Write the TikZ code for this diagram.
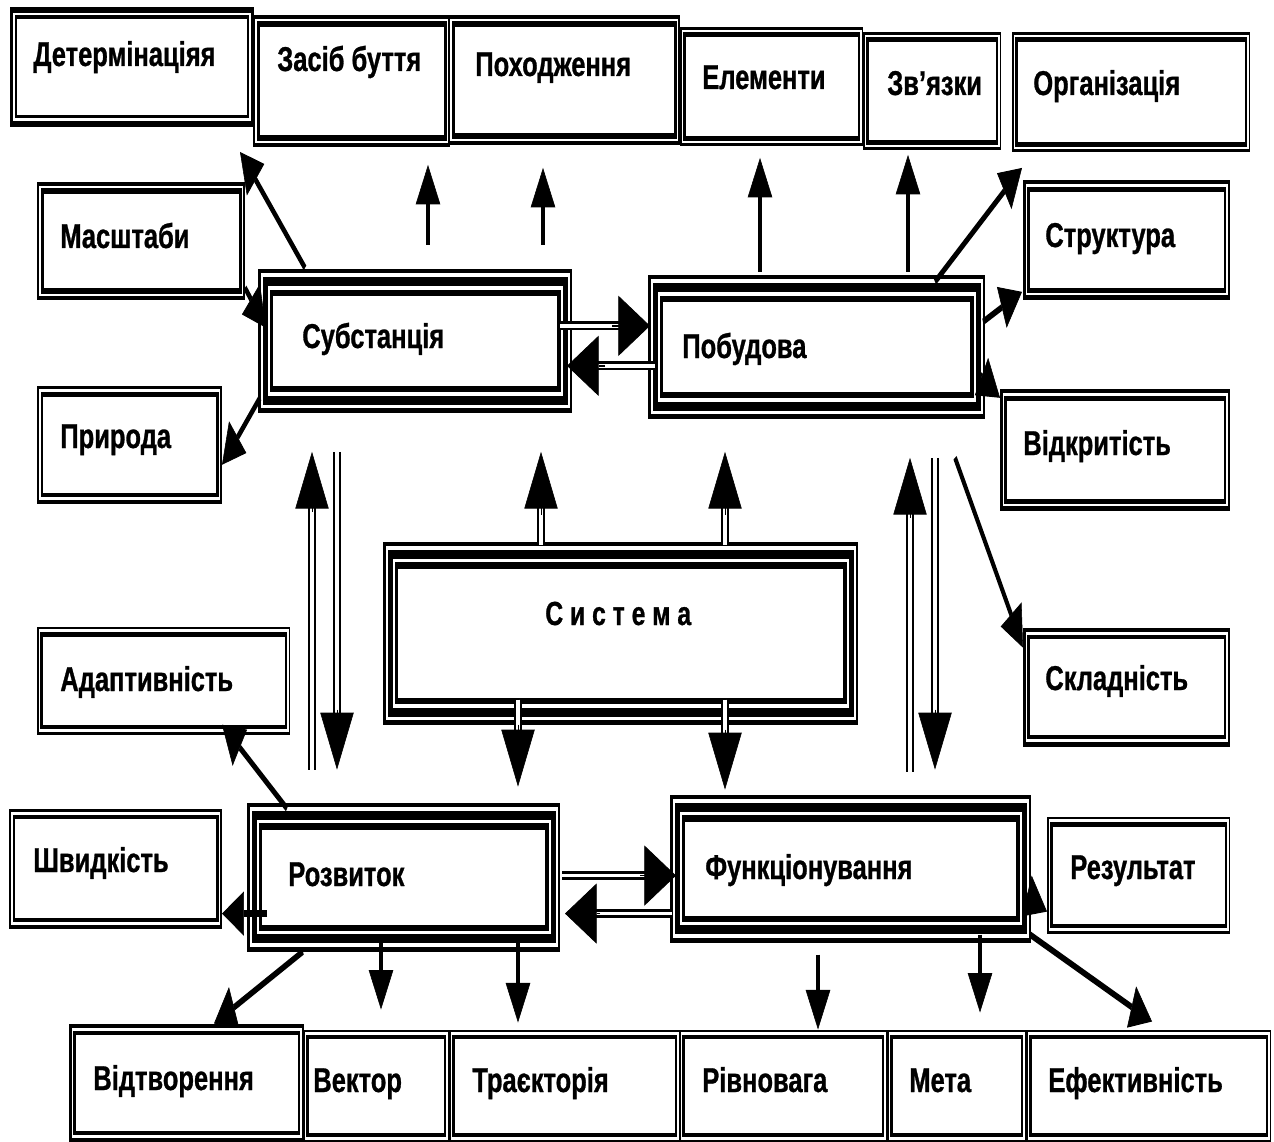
\documentclass[tikz,border=0pt]{standalone}
\usepackage{fontspec}
\setmainfont{Liberation Sans}[FakeStretch=0.74,FakeBold=0.8]
\usetikzlibrary{arrows.meta,fit}
% double-bordered box: name, x1, y1, x2, y2, outer width, inner width
\newcommand\dbx[7]{%
  \fill (#2,#3) rectangle (#4,#5);
  \fill[white] ({#2+#6},{#3+1.8*#6}) rectangle ({#4-#6},{#5-1.8*#6});
  \fill ({#2+#6+1.5},{#3+1.8*(#6+1.5)}) rectangle ({#4-#6-1.5},{#5-1.8*(#6+1.5)});
  \fill[white] ({#2+#6+1.5+#7},{#3+1.8*(#6+1.5+#7)}) rectangle ({#4-#6-1.5-#7},{#5-1.8*(#6+1.5+#7)});
  \node[fit={(#2,#3)(#4,#5)},inner sep=0pt] (#1) {};}
% triple-bordered box: name, x1, y1, x2, y2
\newcommand\tbx[5]{%
  \fill (#2,#3) rectangle (#4,#5);
  \fill[white] ({#2+2.5},{#3+4.5}) rectangle ({#4-2.5},{#5-4.5});
  \fill ({#2+4.5},{#3+8.1}) rectangle ({#4-4.5},{#5-8.1});
  \fill[white] ({#2+9.5},{#3+17.1}) rectangle ({#4-9.5},{#5-17.1});
  \fill ({#2+11.5},{#3+20.7}) rectangle ({#4-11.5},{#5-20.7});
  \fill[white] ({#2+15},{#3+27}) rectangle ({#4-15},{#5-27});
  \node[fit={(#2,#3)(#4,#5)},inner sep=0pt] (#1) {};}
\begin{document}
\begin{tikzpicture}[x=0.02cm,y=-0.02cm,
  lbl/.style={font=\bfseries\fontsize{19.6}{22}\selectfont, inner sep=0pt, anchor=base west},
  sysl/.style={font=\bfseries\fontsize{19}{22}\selectfont, inner sep=0pt, anchor=base west}]
\useasboundingbox (0,0) rectangle (1274,1142);
\fill[white] (0,0) rectangle (1274,1142);
\begin{scope}[transform canvas={yscale=1.8}, x=0.02cm, y=-0.0111111cm,
  sarr/.style={line width=2.1pt, -{Triangle[length=12.5pt,width=14pt,line width=0.3pt]}},
  btip/.style={line width=0.5pt, -{Triangle[length=18pt,width=19pt,line width=0.3pt]}},
  dv/.style={double=white, line width=1.4pt, double distance=2pt},
  dv2/.style={double=white, line width=1pt, double distance=2.8pt},
  dh/.style={double=white, line width=0.85pt, double distance=1.1pt}]
% top row
\dbx{det}{10}{7}{254}{127}{3.2}{2}
\dbx{zas}{253}{15}{450}{147}{2}{3}
\dbx{pox}{448}{15}{680}{145}{2}{3}
\dbx{ele}{680}{27}{863}{146}{1.5}{2.5}
\dbx{zvy}{863}{32}{1001}{150}{1.5}{2.5}
\dbx{org}{1012}{32}{1250}{152}{1.5}{2.5}
% left column
\dbx{mas}{37}{182}{245}{300}{2}{3}
\dbx{pry}{37}{386}{222}{504}{2}{2.5}
\dbx{ada}{37}{627}{290}{735}{1.5}{2.5}
\dbx{shv}{9}{809}{222}{929}{2}{2.5}
% right column
\dbx{str}{1023}{180}{1230}{300}{2.5}{2.5}
\dbx{vid}{1000}{389}{1230}{511}{2.5}{2.5}
\dbx{skl}{1023}{628}{1230}{747}{2.5}{2.5}
\dbx{rez}{1047}{817}{1230}{934}{1.5}{2.5}
% bottom row
\dbx{vdt}{69}{1024}{304}{1143}{2.5}{2.5}
\dbx{vek}{303}{1030}{449}{1143}{1.5}{2.5}
\dbx{tra}{449}{1030}{680}{1143}{1.5}{2.5}
\dbx{riv}{679}{1030}{887}{1143}{1.5}{2.5}
\dbx{met}{887}{1030}{1026}{1143}{1.5}{2.5}
\dbx{efe}{1026}{1030}{1271}{1143}{1.5}{2.5}
% central boxes
\tbx{sub}{258}{269}{572}{413}
\tbx{pob}{648}{275}{985}{419}
\tbx{sys}{383}{542}{858}{725}
\tbx{roz}{247}{803}{560}{952}
\tbx{fun}{670}{795}{1031}{943}
% end points of connectors
\coordinate (s1a) at (305,268); \coordinate (s1b) at (240,152);
\coordinate (s2a) at (428,245); \coordinate (s2b) at (428,165);
\coordinate (s3a) at (543,245); \coordinate (s3b) at (543,168);
\coordinate (s4a) at (760,272); \coordinate (s4b) at (760,158);
\coordinate (s5a) at (908,272); \coordinate (s5b) at (908,155);
\coordinate (s6a) at (935,282); \coordinate (s6b) at (1022,168);
\coordinate (s7a) at (983,322); \coordinate (s7b) at (1022,292);
\coordinate (s8a) at (980,375); \coordinate (s8b) at (1000,398);
\coordinate (s9a) at (245,288); \coordinate (s9b) at (266,328);
\coordinate (s10a) at (260,398); \coordinate (s10b) at (222,465);
\coordinate (s21a) at (955,458); \coordinate (s21b) at (1023,648);
\coordinate (s22a) at (287,809); \coordinate (s22b) at (222,725);
\coordinate (s23a) at (267,914); \coordinate (s23b) at (222,914);
\coordinate (s24a) at (303,952); \coordinate (s24b) at (214,1024);
\coordinate (s25a) at (381,940); \coordinate (s25b) at (381,1010);
\coordinate (s26a) at (518,940); \coordinate (s26b) at (518,1023);
\coordinate (s29a) at (818,955); \coordinate (s29b) at (818,1030);
\coordinate (s30a) at (980,935); \coordinate (s30b) at (980,1013);
\coordinate (s31a) at (1025,895); \coordinate (s31b) at (1047,912);
\coordinate (s32a) at (1030,935); \coordinate (s32b) at (1152,1022);
% single arrows
\foreach \i in {1,2,3,4,5,6,7,8,9,10,21,22,23,24,25,26,29,30,31,32}
  \draw[sarr] (s\i a) -- (s\i b);
% double arrows: shaft start, shaft end, tip base, tip
\coordinate (d1a) at (560,326); \coordinate (d1b) at (625,326); \coordinate (d1c) at (612,326); \coordinate (d1d) at (650,326);
\coordinate (d2a) at (655,366); \coordinate (d2b) at (590,366); \coordinate (d2c) at (605,366); \coordinate (d2d) at (567,366);
\coordinate (d3a) at (562,876); \coordinate (d3b) at (650,876); \coordinate (d3c) at (640,876); \coordinate (d3d) at (676,876);
\coordinate (d4a) at (672,914); \coordinate (d4b) at (590,914); \coordinate (d4c) at (600,914); \coordinate (d4d) at (565,914);
\foreach \i in {1,2,3,4} {\draw[dh] (d\i a) -- (d\i b); \draw[btip] (d\i c) -- (d\i d);}
\coordinate (v1a) at (541,545); \coordinate (v1b) at (541,500); \coordinate (v1c) at (541,515); \coordinate (v1d) at (541,452);
\coordinate (v2a) at (725,545); \coordinate (v2b) at (725,500); \coordinate (v2c) at (725,515); \coordinate (v2d) at (725,452);
\coordinate (v3a) at (518,700); \coordinate (v3b) at (518,735); \coordinate (v3c) at (518,725); \coordinate (v3d) at (518,787);
\coordinate (v4a) at (725,700); \coordinate (v4b) at (725,740); \coordinate (v4c) at (725,730); \coordinate (v4d) at (725,790);
\coordinate (v5a) at (312,770); \coordinate (v5b) at (312,500); \coordinate (v5c) at (312,512); \coordinate (v5d) at (312,452);
\coordinate (v6a) at (910,772); \coordinate (v6b) at (910,505); \coordinate (v6c) at (910,518); \coordinate (v6d) at (910,458);
\foreach \i in {1,2,3,4,5,6} {\draw[dv] (v\i a) -- (v\i b); \draw[btip] (v\i c) -- (v\i d);}
\coordinate (w1a) at (337,452); \coordinate (w1b) at (337,720); \coordinate (w1c) at (337,710); \coordinate (w1d) at (337,770);
\coordinate (w2a) at (935,458); \coordinate (w2b) at (935,720); \coordinate (w2c) at (935,710); \coordinate (w2d) at (935,770);
\foreach \i in {1,2} {\draw[dv2] (w\i a) -- (w\i b); \draw[btip] (w\i c) -- (w\i d);}
\end{scope}
% labels
\node[lbl] (tdet) at (33,66) {Детермінаціяя};
\node[lbl] (tzas) at (277,71) {Засіб буття};
\node[lbl] (tpox) at (475,76) {Походження};
\node[lbl] (tele) at (702,89) {Елементи};
\node[lbl] (tzvy) at (887,95) {Зв’язки};
\node[lbl] (torg) at (1033,95) {Організація};
\node[lbl] (tmas) at (60,248) {Масштаби};
\node[lbl] (tpry) at (60,448) {Природа};
\node[lbl] (tada) at (60,691) {Адаптивність};
\node[lbl] (tshv) at (33,872) {Швидкість};
\node[lbl] (tstr) at (1045,247) {Структура};
\node[lbl] (tvid) at (1023,455) {Відкритість};
\node[lbl] (tskl) at (1045,690) {Складність};
\node[lbl] (trez) at (1070,879) {Результат};
\node[lbl] (tsub) at (302,348) {Субстанція};
\node[lbl] (tpob) at (682,358) {Побудова};
\node[sysl] (tsys) at (545,625) {С и с т е м а};
\node[lbl] (troz) at (288,886) {Розвиток};
\node[lbl] (tfun) at (705,879) {Функціонування};
\node[lbl] (tvdt) at (93,1090) {Відтворення};
\node[lbl] (tvek) at (313,1092) {Вектор};
\node[lbl] (ttra) at (472,1092) {Траєкторія};
\node[lbl] (triv) at (702,1092) {Рівновага};
\node[lbl] (tmet) at (909,1092) {Мета};
\node[lbl] (tefe) at (1048,1092) {Ефективність};
\end{tikzpicture}
\end{document}
